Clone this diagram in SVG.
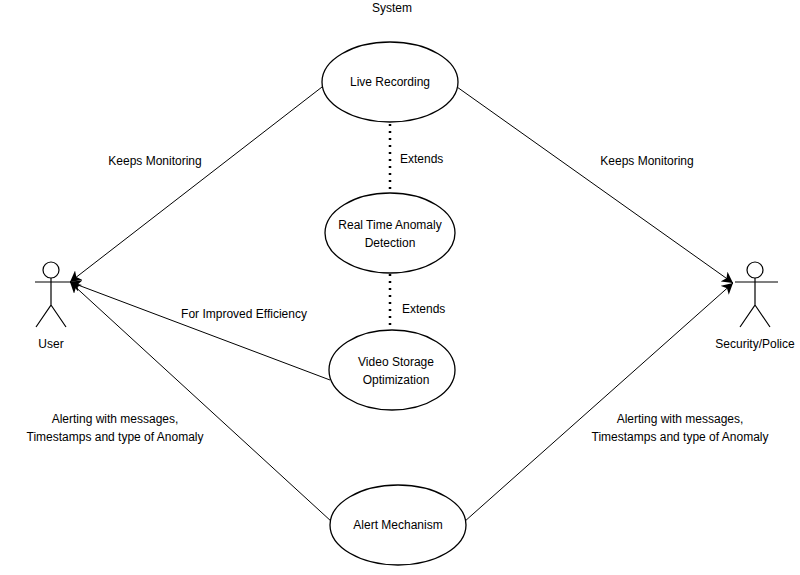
<svg xmlns="http://www.w3.org/2000/svg" width="800" height="575" viewBox="0 0 800 575">
<style>
text{font-family:"Liberation Sans",Arial,sans-serif;font-size:12px;fill:#000}
.uc{fill:#fff;stroke:#000;stroke-width:1.3}
.ac{fill:none;stroke:#000;stroke-width:1.2}
.ln{stroke:#000;stroke-width:1;fill:none}
.dot{stroke:#000;stroke-width:2.5;stroke-dasharray:2 5;fill:none}
</style>
<defs><marker id="a" markerWidth="12" markerHeight="12" refX="11" refY="6" orient="auto" markerUnits="userSpaceOnUse"><path d="M0,0 L11,6 L0,12 L3,6 Z" fill="#000"/></marker></defs>
<rect width="800" height="575" fill="#fff"/>
<text x="392" y="12" text-anchor="middle">System</text>
<g id="connectors">
<line class="ln" x1="322" y1="87" x2="70" y2="282" marker-end="url(#a)"/>
<line class="ln" x1="457" y1="87" x2="733" y2="283" marker-end="url(#a)"/>
<line class="ln" x1="330" y1="380" x2="70" y2="282" marker-end="url(#a)"/>
<line class="ln" x1="332" y1="522" x2="70" y2="282" marker-end="url(#a)"/>
<line class="ln" x1="464" y1="522" x2="733" y2="283" marker-end="url(#a)"/>
<line class="dot" x1="390" y1="124" x2="390" y2="192"/>
<line class="dot" x1="390" y1="274" x2="390" y2="330"/>
<text x="155" y="165" text-anchor="middle">Keeps Monitoring</text>
<text x="647" y="165" text-anchor="middle">Keeps Monitoring</text>
<text x="400" y="163">Extends</text>
<text x="402" y="313">Extends</text>
<text x="244" y="318" text-anchor="middle">For Improved Efficiency</text>
<text x="115" y="423" text-anchor="middle">Alerting with messages,</text>
<text x="115" y="441" text-anchor="middle">Timestamps and type of Anomaly</text>
<text x="680" y="423" text-anchor="middle">Alerting with messages,</text>
<text x="680" y="441" text-anchor="middle">Timestamps and type of Anomaly</text>
</g>
<g id="live"><ellipse class="uc" cx="390" cy="82" rx="68" ry="40"/><text x="390" y="86" text-anchor="middle">Live Recording</text></g>
<g id="rtad"><ellipse class="uc" cx="390" cy="233" rx="65" ry="40"/><text x="390" y="229" text-anchor="middle">Real Time Anomaly</text><text x="390" y="247" text-anchor="middle">Detection</text></g>
<g id="vso"><ellipse class="uc" cx="392" cy="370" rx="63" ry="40"/><text x="396" y="366" text-anchor="middle">Video Storage</text><text x="396" y="384" text-anchor="middle">Optimization</text></g>
<g id="alert"><ellipse class="uc" cx="398" cy="525" rx="68" ry="40"/><text x="398" y="529" text-anchor="middle">Alert Mechanism</text></g>
<g id="user"><circle class="ac" cx="51" cy="270" r="8"/><path class="ac" d="M35,282H78M51,278V305L36,327M51,305L66,327"/><text x="51" y="348" text-anchor="middle">User</text></g>
<g id="police"><circle class="ac" cx="755" cy="270" r="8"/><path class="ac" d="M735,282H778M755,278V305L740,327M755,305L770,327"/><text x="755" y="348" text-anchor="middle">Security/Police</text></g>
</svg>
